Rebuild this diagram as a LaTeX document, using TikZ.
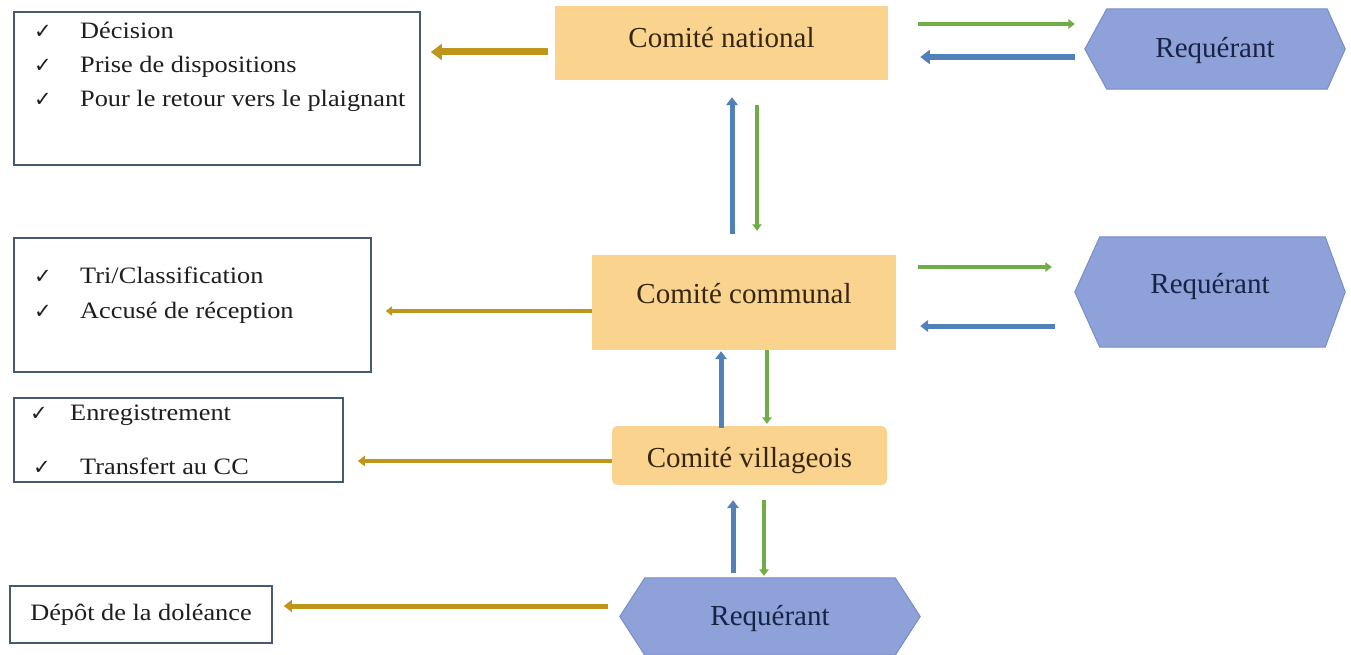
\documentclass[tikz,border=0pt]{standalone}
\usepackage{fontspec}
\setmainfont{Liberation Serif}
\newfontfamily\listfont{Liberation Serif}[FakeStretch=1.12]
\newfontfamily\symfont{DejaVu Sans}
\usetikzlibrary{calc,arrows.meta}
\pgfdeclarelayer{background}
\pgfsetlayers{background,main}
\definecolor{boxorange}{RGB}{250,212,142}
\definecolor{hexfill}{RGB}{142,161,216}
\definecolor{hexline}{RGB}{120,140,200}
\definecolor{goldc}{RGB}{191,150,28}
\definecolor{greenc}{RGB}{112,173,71}
\definecolor{bluec}{RGB}{82,128,184}
\definecolor{framec}{RGB}{72,90,110}
\definecolor{brownt}{RGB}{55,38,15}
\definecolor{navyt}{RGB}{25,35,70}
\definecolor{itemt}{RGB}{30,30,30}
\begin{document}
\begin{tikzpicture}[x=1pt,y=-1pt,
  listbox/.style={draw=framec, line width=1.5pt, inner sep=0pt},
  comite/.style={fill=boxorange, inner sep=0pt, text=brownt, font=\fontsize{29}{34}\selectfont},
  hexlabel/.style={inner sep=0pt, text=navyt, font=\fontsize{29}{34}\selectfont},
  item/.style={inner sep=0pt, anchor=base west, text=itemt, font=\listfont\fontsize{23.5}{28}\selectfont},
  chk/.style={inner sep=0pt, anchor=base west, text=itemt, font=\symfont\fontsize{21}{24}\selectfont},
  arr/.style={-{Triangle[length=0pt 1.6,width=0pt 2.3]}},
  goldarrow/.style={draw=goldc, line width=#1, arr},
  greenarrow/.style={draw=greenc, line width=#1, arr},
  bluearrow/.style={draw=bluec, line width=#1, arr}
]
\useasboundingbox (0,0) rectangle (1351,655);

% list boxes
\node[listbox, minimum width=406pt, minimum height=153pt] (lb1) at (217,88.5) {};
\node[listbox, minimum width=357pt, minimum height=134pt] (lb2) at (192.5,305) {};
\node[listbox, minimum width=329pt, minimum height=84pt] (lb3) at (178.5,440) {};
\node[listbox, minimum width=262pt, minimum height=57pt, text=itemt,
      font=\listfont\fontsize{23.5}{28}\selectfont] (dep) at (141,614.5) {Dépôt de la doléance};

% list items
\node[chk] (c11) at (34,39) {✓};  \node[item] (t11) at (80,39) {Décision};
\node[chk] (c12) at (34,73) {✓};  \node[item] (t12) at (80,73) {Prise de dispositions};
\node[chk] (c13) at (34,107) {✓}; \node[item] (t13) at (80,107) {Pour le retour vers le plaignant};
\node[chk] (c21) at (34,283) {✓}; \node[item] (t21) at (80,283) {Tri/Classification};
\node[chk] (c22) at (34,318) {✓}; \node[item] (t22) at (80,318) {Accusé de réception};
\node[chk] (c31) at (30,420) {✓}; \node[item] (t31) at (70,420) {Enregistrement};
\node[chk] (c32) at (33,474) {✓}; \node[item] (t32) at (80,474) {Transfert au CC};

% committees
\node[comite, minimum width=333pt, minimum height=74pt, text height=22pt, text depth=12pt] (cn) at (721.5,43) {Comité national};
\node[comite, minimum width=304pt, minimum height=95pt, text height=22pt, text depth=20pt] (cc) at (744,302.5) {Comité communal};
\node[comite, rounded corners=6pt, minimum width=275pt, minimum height=59pt, text height=26pt, text depth=2pt] (cv) at (749.5,455.5) {Comité villageois};

% requerants
\node[hexlabel, minimum width=260pt, minimum height=80pt, text height=22pt, text depth=4pt] (rq1) at (1215,49) {Requérant};
\node[hexlabel, minimum width=270pt, minimum height=110pt, text height=22pt, text depth=20pt] (rq2) at (1210,292) {Requérant};
\node[hexlabel, minimum width=300pt, minimum height=77pt, text height=22pt, text depth=4pt] (rq3) at (770,616.5) {Requérant};

\begin{pgfonlayer}{background}
\fill[white] (0,0) rectangle (1351,655);
\foreach \n/\l/\r in {rq1/22/18, rq2/25/20, rq3/25/25}{
  \filldraw[fill=hexfill, draw=hexline, line width=1pt]
    (\n.west) -- ($(\n.north west)+(\l,0)$) -- ($(\n.north east)+(-\r,0)$) -- (\n.east)
    -- ($(\n.south east)+(-\r,0)$) -- ($(\n.south west)+(\l,0)$) -- cycle;
}
\end{pgfonlayer}

% gold arrows to the list boxes
\draw[goldarrow=7pt] ($(cn.west)+(-7,9)$) -- ($(lb1.east)+(10,-36.5)$);
\draw[goldarrow=4pt] ($(cc.west)+(0,8.5)$) -- ($(lb2.east)+(14,6)$);
\draw[goldarrow=4.5pt] ($(cv.west)+(0,5.5)$) -- ($(lb3.east)+(14,21)$);
\draw[goldarrow=5pt] ($(rq3.west)+(-12,-10.5)$) -- ($(dep.east)+(11,-8.5)$);

% national <-> requerant
\draw[greenarrow=4pt] ($(cn.east)+(30,-19)$) -- ($(rq1.west)+(-10,-25)$);
\draw[bluearrow=6pt] ($(rq1.west)+(-10,8)$) -- ($(cn.east)+(32,14)$);

% communal <-> national
\draw[bluearrow=5pt] ($(cc.north)+(-12,-21)$) -- ($(cn.south)+(10.5,17)$);
\draw[greenarrow=4pt] ($(cn.south)+(35.5,25)$) -- ($(cc.north)+(13,-24)$);

% communal <-> requerant
\draw[greenarrow=4pt] ($(cc.east)+(22,-35.5)$) -- ($(rq2.west)+(-23,-25)$);
\draw[bluearrow=5pt] ($(rq2.west)+(-20,34)$) -- ($(cc.east)+(24,23.5)$);

% villageois <-> communal
\draw[bluearrow=5pt] ($(cv.north)+(-28.5,2)$) -- ($(cc.south)+(-23,1)$);
\draw[greenarrow=4pt] ($(cc.south)+(23,0)$) -- ($(cv.north)+(17.5,-2)$);

% requerant <-> villageois
\draw[bluearrow=5pt] ($(rq3.north)+(-37,-5)$) -- ($(cv.south)+(-16.5,15)$);
\draw[greenarrow=4pt] ($(cv.south)+(14.5,15)$) -- ($(rq3.north)+(-6,-2)$);
\end{tikzpicture}
\end{document}
